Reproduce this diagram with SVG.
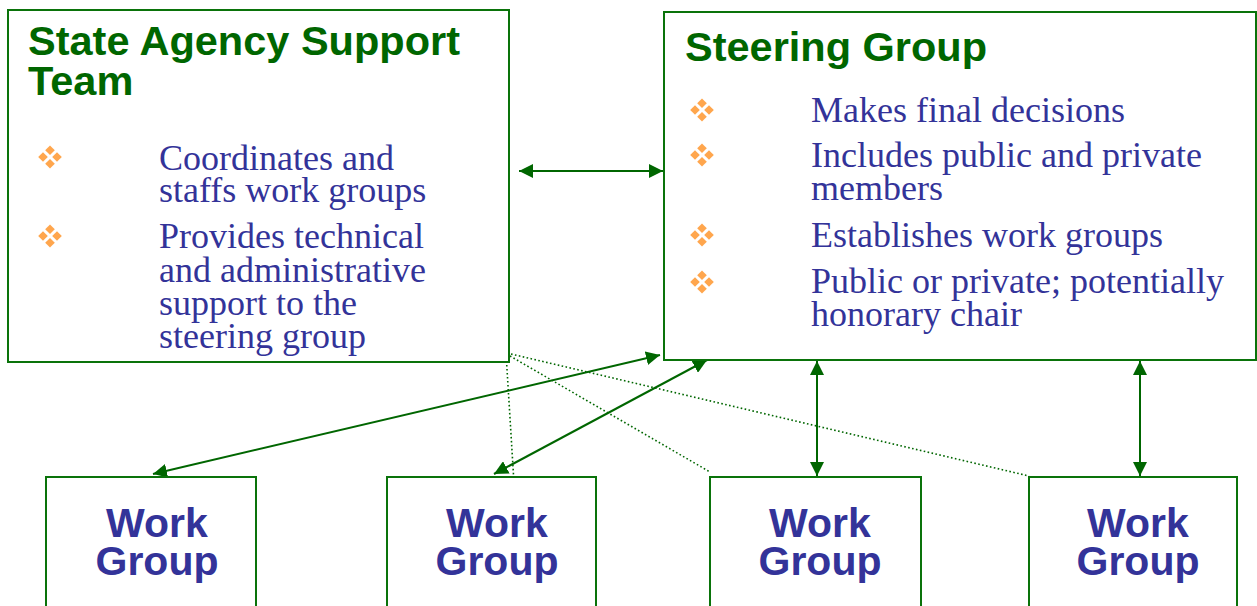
<svg xmlns="http://www.w3.org/2000/svg" width="1257" height="606" viewBox="0 0 1257 606">
<style>
.box{fill:#fff;stroke:#0a730a;stroke-width:2}
.title{font-family:"Liberation Sans",Arial,sans-serif;font-weight:bold;font-size:41.5px;fill:#006600}
.body{font-family:"Liberation Serif","Times New Roman",serif;font-size:36px;fill:#333399}
.wg{font-family:"Liberation Sans",Arial,sans-serif;font-weight:bold;font-size:41px;fill:#333399;text-anchor:middle}
.conn{stroke:#006600;stroke-width:2;fill:none}
.dot{stroke:#006600;stroke-width:1.6;fill:none;stroke-dasharray:1.6 2.4}
.bul{fill:#FFA64D}
</style>
<defs>
<marker id="ah" viewBox="0 0 14 14" refX="14" refY="7" markerWidth="14" markerHeight="14" markerUnits="userSpaceOnUse" orient="auto-start-reverse">
<path d="M0,0 L14,7 L0,14 z" fill="#006600"/>
</marker>
<g id="bullet" class="bul">
<path d="M0,-11.5 L4.8,-6.7 L0,-1.9 L-4.8,-6.7 z"/>
<path d="M-7,-4.8 L-2.2,0 L-7,4.8 L-11.8,0 z"/>
<path d="M7,-4.8 L11.8,0 L7,4.8 L2.2,0 z"/>
<path d="M0,1.9 L4.8,6.7 L0,11.5 L-4.8,6.7 z"/>
</g>
</defs>
<rect width="1257" height="606" fill="#fff"/>

<g id="connectors">
<line class="dot" x1="506" y1="353" x2="514" y2="483"/>
<line class="dot" x1="510" y1="356" x2="710" y2="472"/>
<line class="dot" x1="511" y1="354" x2="1029" y2="476"/>
<line class="conn" x1="519" y1="171" x2="663" y2="171" marker-start="url(#ah)" marker-end="url(#ah)"/>
<line class="conn" x1="153" y1="474" x2="660" y2="355" marker-start="url(#ah)" marker-end="url(#ah)"/>
<line class="conn" x1="494" y1="474" x2="707" y2="360" marker-start="url(#ah)" marker-end="url(#ah)"/>
<line class="conn" x1="817" y1="361" x2="817" y2="476" marker-start="url(#ah)" marker-end="url(#ah)"/>
<line class="conn" x1="1140" y1="361" x2="1140" y2="476" marker-start="url(#ah)" marker-end="url(#ah)"/>
</g>

<g id="state-agency-support-team">
<rect class="box" x="8" y="10" width="501" height="352"/>
<text class="title" x="28" y="55">State Agency Support</text>
<text class="title" x="28" y="95">Team</text>
<use href="#bullet" x="50" y="157"/>
<use href="#bullet" x="50" y="236"/>
<text class="body" x="159" y="170">Coordinates and</text>
<text class="body" x="159" y="202">staffs work groups</text>
<text class="body" x="159" y="248">Provides technical</text>
<text class="body" x="159" y="282">and administrative</text>
<text class="body" x="159" y="315">support to the</text>
<text class="body" x="159" y="348">steering group</text>
</g>

<g id="steering-group">
<rect class="box" x="664" y="12" width="592" height="348"/>
<text class="title" x="685" y="61">Steering Group</text>
<use href="#bullet" x="702" y="110"/>
<use href="#bullet" x="702" y="155"/>
<use href="#bullet" x="702" y="235"/>
<use href="#bullet" x="702" y="282"/>
<text class="body" x="811" y="122">Makes final decisions</text>
<text class="body" x="811" y="167">Includes public and private</text>
<text class="body" x="811" y="200">members</text>
<text class="body" x="811" y="247">Establishes work groups</text>
<text class="body" x="811" y="293">Public or private; potentially</text>
<text class="body" x="811" y="326">honorary chair</text>
</g>

<g id="work-group-1">
<rect class="box" x="46" y="477" width="210" height="150"/>
<text class="wg" x="157" y="537">Work</text>
<text class="wg" x="157" y="575">Group</text>
</g>
<g id="work-group-2">
<rect class="box" x="387" y="477" width="209" height="150"/>
<text class="wg" x="497" y="537">Work</text>
<text class="wg" x="497" y="575">Group</text>
</g>
<g id="work-group-3">
<rect class="box" x="710" y="477" width="211" height="150"/>
<text class="wg" x="820" y="537">Work</text>
<text class="wg" x="820" y="575">Group</text>
</g>
<g id="work-group-4">
<rect class="box" x="1029" y="477" width="208" height="150"/>
<text class="wg" x="1138" y="537">Work</text>
<text class="wg" x="1138" y="575">Group</text>
</g>
</svg>
